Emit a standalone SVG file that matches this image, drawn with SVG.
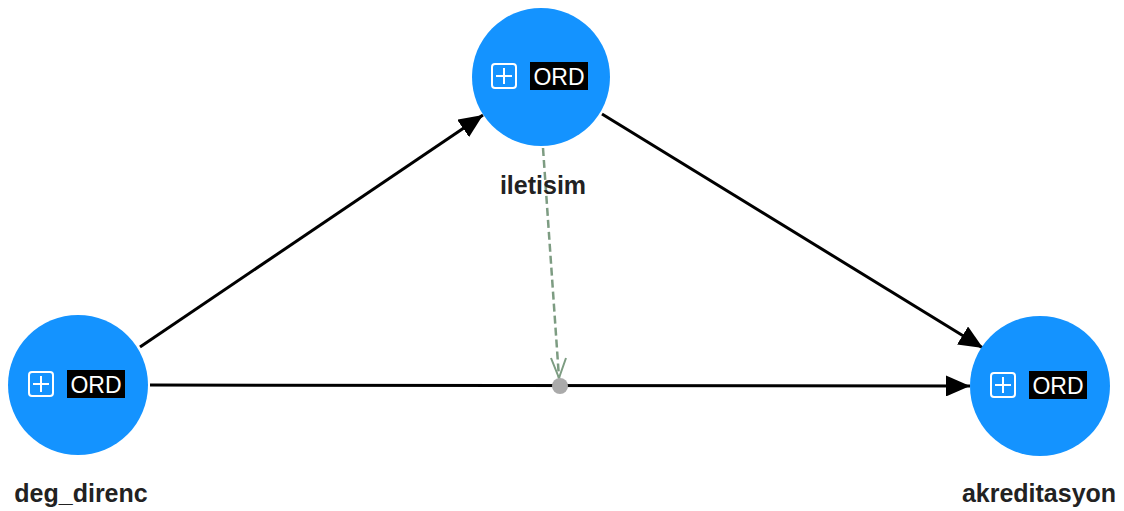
<svg xmlns="http://www.w3.org/2000/svg" width="1124" height="511" viewBox="0 0 1124 511">
<style>
.node{fill:#1493ff}
.lbl{font-family:"Liberation Sans",Arial,sans-serif;font-weight:bold;font-size:25px;fill:#222;text-anchor:middle}
.ord{font-family:"Liberation Sans",Arial,sans-serif;font-size:23px;fill:#fff;text-anchor:middle}
.edge{stroke:#000;stroke-width:3;fill:none}
.dash{stroke:#7d9c82;stroke-width:2.5;stroke-dasharray:8,4;fill:none}
</style>
<defs>
<marker id="ah" markerWidth="8" markerHeight="7" refX="8" refY="3.5" orient="auto" markerUnits="strokeWidth">
<path d="M0,0 L8,3.5 L0,7 Z" fill="#000"/>
</marker>
<g id="badge">
<rect x="-49" y="-13" width="24" height="24" rx="3" fill="none" stroke="#fff" stroke-width="2"/>
<path d="M-37,-9 V7 M-45,-1 H-29" stroke="#fff" stroke-width="2"/>
<rect x="-11" y="-15" width="58" height="28" fill="#000"/>
<text x="18" y="8" class="ord">ORD</text>
</g>
</defs>
<g id="connectors">
<line class="edge" x1="140" y1="347" x2="483" y2="115" marker-end="url(#ah)"/>
<line class="edge" x1="602" y1="114" x2="983" y2="348" marker-end="url(#ah)"/>
<line class="edge" x1="150" y1="385" x2="970" y2="386" marker-end="url(#ah)"/>
<line class="dash" x1="543" y1="148" x2="559" y2="378"/>
<path d="M551,358 L559,378 L566,358" fill="none" stroke="#7d9c82" stroke-width="2"/>
<circle cx="560" cy="386" r="8" fill="#aaa"/>
</g>
<g id="iletisim">
<circle class="node" cx="541" cy="77" r="69"/>
<use href="#badge" x="541" y="77"/>
<text class="lbl" x="543" y="194">iletisim</text>
</g>
<g id="deg_direnc">
<circle class="node" cx="78" cy="385" r="70"/>
<use href="#badge" x="78" y="385"/>
<text class="lbl" x="81" y="502">deg_direnc</text>
</g>
<g id="akreditasyon">
<circle class="node" cx="1040" cy="386" r="70"/>
<use href="#badge" x="1040" y="386"/>
<text class="lbl" x="1039" y="502">akreditasyon</text>
</g>
</svg>
